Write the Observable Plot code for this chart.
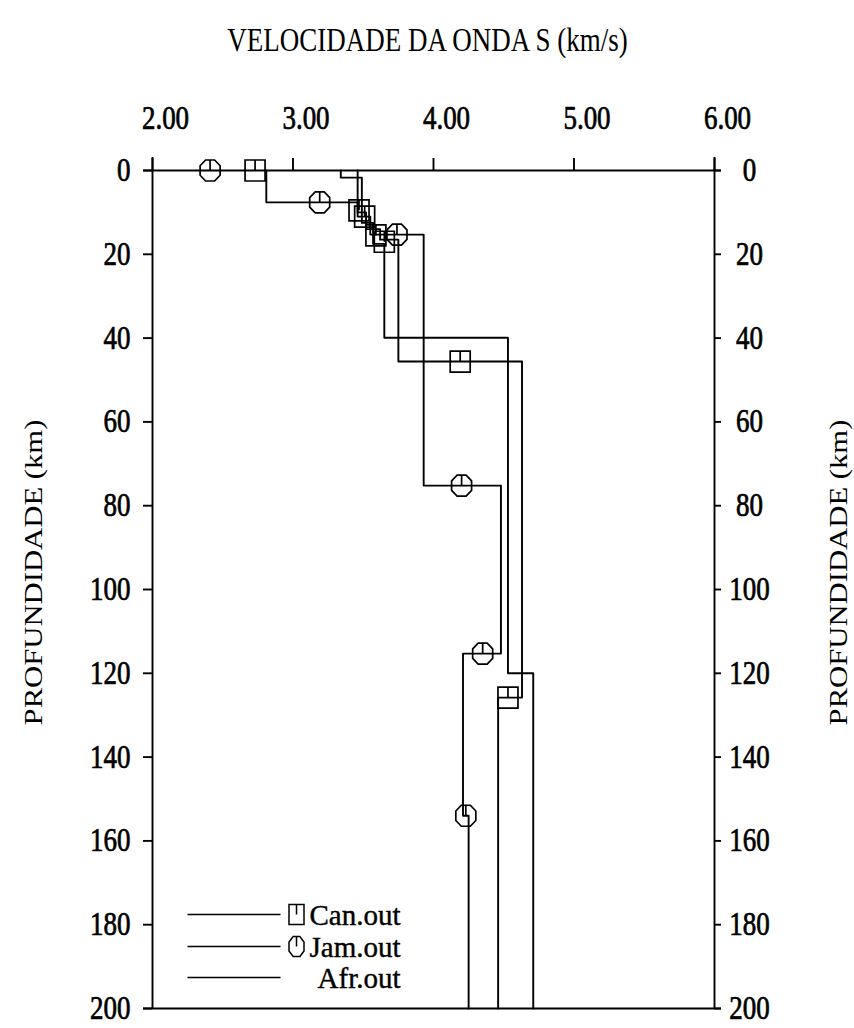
<!DOCTYPE html>
<html>
<head>
<meta charset="utf-8">
<script src="https://cdn.jsdelivr.net/npm/d3@7"></script>
<script src="https://cdn.jsdelivr.net/npm/@observablehq/plot@0.6"></script>
<style>
  html, body { margin: 0; padding: 0; background: #fff; }
  #chart svg { display: block; }
</style>
</head>
<body>
<div id="chart"></div>
<script>
// ---- data ----
const xTicks = [2, 3, 4, 5, 6];
const yTicks = [0, 20, 40, 60, 80, 100, 120, 140, 160, 180, 200];

// step profiles: layer S-velocities and layer boundaries (km)
const canVs    = [3.46, 3.52, 3.62, 3.75, 4.63, 4.46];
const canDepth = [0, 10, 14, 16.5, 45.6, 125.8, 200];
const jamVs    = [2.81, 3.46, 3.55, 3.93, 4.48, 4.21, 4.25];
const jamDepth = [0, 7.6, 11, 15.3, 75.2, 115.3, 154, 200];
const afrVs    = [3.34, 3.49, 3.57, 3.65, 4.53, 4.71];
const afrDepth = [0, 1.7, 12.5, 17.5, 39.9, 120, 200];

// symbol positions along the curves
const canMarkV = [2.73, 3.47, 3.51, 3.59, 3.65, 4.19, 4.53];
const canMarkD = [0, 9.5, 11, 15.5, 17, 45.6, 125.8];
const jamMarkV = [2.41, 3.19, 3.74, 4.20, 4.35, 4.23];
const jamMarkD = [0, 7.6, 15.3, 75.2, 115.3, 154];

const legendLabels = ["Can.out", "Jam.out", "Afr.out"];

// ---- helpers ----
function steps(vs, depths) {
  const pts = [];
  vs.forEach((v, i) => { pts.push({v, d: depths[i]}); pts.push({v, d: depths[i + 1]}); });
  return pts;
}
const pairs = (vs, ds) => vs.map((v, i) => ({v, d: ds[i]}));

function squareSym(wk, hk) {
  return { draw(ctx, size) {
    const r = Math.sqrt(size / Math.PI), w = r * wk, h = r * hk;
    ctx.moveTo(-w, -h); ctx.lineTo(w, -h); ctx.lineTo(w, h); ctx.lineTo(-w, h); ctx.closePath();
    ctx.moveTo(0, -h); ctx.lineTo(0, 0);
  }};
}
function octSym(wk, hk) {
  return { draw(ctx, size) {
    const r = Math.sqrt(size / Math.PI), w = r * wk, h = r * hk, c = 0.45;
    ctx.moveTo(-w * c, -h); ctx.lineTo(w * c, -h); ctx.lineTo(w, -h * c); ctx.lineTo(w, h * c);
    ctx.lineTo(w * c, h); ctx.lineTo(-w * c, h); ctx.lineTo(-w, h * c); ctx.lineTo(-w, -h * c); ctx.closePath();
    ctx.moveTo(0, -h); ctx.lineTo(0, 0);
  }};
}
const lineSym = { draw(ctx, size) { const r = Math.sqrt(size / Math.PI); ctx.moveTo(-r, 0); ctx.lineTo(r, 0); } };

const SW = 1.9;
const font = "'Liberation Serif', 'Times New Roman', serif";
const heavy = {fill: "black", stroke: "black", strokeWidth: 0.6};

const legendMarks = [];
const rowDy = [-94, -62, -31];
const rowSym = [squareSym(0.75, 1), octSym(0.75, 1), null];
legendLabels.forEach((lab, i) => {
  legendMarks.push(Plot.dot([lab], {frameAnchor: "bottom-left", dx: 81.5, dy: rowDy[i], r: 46.5, symbol: lineSym, stroke: "black", strokeWidth: 1.5}));
  if (rowSym[i]) legendMarks.push(Plot.dot([lab], {frameAnchor: "bottom-left", dx: 144, dy: rowDy[i], r: 10, symbol: rowSym[i], fill: "none", stroke: "black", strokeWidth: 1.5}));
  legendMarks.push(Plot.text([lab], {frameAnchor: "bottom-left", dx: 248, dy: rowDy[i] + 1, text: d => d, textAnchor: "end", lineAnchor: "middle", fontSize: 29, ...heavy, strokeWidth: 0.4}));
});

const chart = Plot.plot({
  width: 854,
  height: 1028,
  marginTop: 170,
  marginBottom: 20,
  marginLeft: 152,
  marginRight: 140,
  style: {background: "#fff", fontFamily: font, color: "black"},
  x: {domain: [2, 6], axis: null},
  y: {domain: [0, 200], reverse: true, axis: null},
  marks: [
    // frame
    Plot.ruleY([0, 200], {x1: 2, x2: 6, insetLeft: -9, insetRight: -7, stroke: "black", strokeWidth: SW}),
    Plot.ruleX([2, 6], {y1: 0, y2: 200, insetTop: -13, stroke: "black", strokeWidth: SW}),
    // top ticks
    Plot.ruleX(xTicks, {x: d => d, y1: 0, y2: 0, insetTop: -12, stroke: "black", strokeWidth: SW}),
    // left / right ticks
    Plot.ruleY(yTicks, {y: d => d, x1: 2, x2: 2, insetLeft: -9, stroke: "black", strokeWidth: SW}),
    Plot.ruleY(yTicks, {y: d => d, x1: 6, x2: 6, insetRight: -7, stroke: "black", strokeWidth: SW}),
    // tick labels
    Plot.text(xTicks, {x: d => d, frameAnchor: "top", lineAnchor: "middle", textAnchor: "middle", dy: -52, dx: 13, text: d => d.toFixed(2), fontSize: 27, ...heavy}),
    Plot.text(yTicks, {y: d => d, frameAnchor: "left", lineAnchor: "middle", dx: -22, textAnchor: "end", text: d => String(d), fontSize: 27, ...heavy}),
    Plot.text(yTicks, {y: d => d, frameAnchor: "right", lineAnchor: "middle", dx: 35, textAnchor: "middle", text: d => String(d), fontSize: 27, ...heavy}),
    // titles
    Plot.text(["VELOCIDADE DA ONDA S (km/s)"], {frameAnchor: "top", lineAnchor: "middle", textAnchor: "middle", dx: -6, dy: -130, text: d => d, fontSize: 27, fill: "black"}),
    Plot.text(["PROFUNDIDADE (km)"], {frameAnchor: "left", textAnchor: "middle", lineAnchor: "middle", dx: -119, dy: -17, rotate: -90, text: d => d, fontSize: 26, fill: "black"}),
    Plot.text(["PROFUNDIDADE (km)"], {frameAnchor: "right", textAnchor: "middle", lineAnchor: "middle", dx: 124, dy: -17, rotate: -90, text: d => d, fontSize: 26, fill: "black"}),
    // profiles
    Plot.line(steps(afrVs, afrDepth), {x: "v", y: "d", stroke: "black", strokeWidth: SW}),
    Plot.line(steps(canVs, canDepth), {x: "v", y: "d", stroke: "black", strokeWidth: SW}),
    Plot.line(steps(jamVs, jamDepth), {x: "v", y: "d", stroke: "black", strokeWidth: SW}),
    // symbols
    Plot.dot(pairs(canMarkV, canMarkD), {x: "v", y: "d", r: 10, symbol: squareSym(1, 1.05), fill: "none", stroke: "black", strokeWidth: 1.7}),
    Plot.dot(pairs(jamMarkV, jamMarkD), {x: "v", y: "d", r: 10, symbol: octSym(1, 1.05), fill: "none", stroke: "black", strokeWidth: 1.7}),
    ...legendMarks
  ]
});

// slightly taller glyphs as in the scanned original (legend text left as is)
d3.select(chart).selectAll("text").each(function () {
  const t = this.getAttribute("transform");
  if (!t) return;
  const txt = this.textContent;
  if (legendLabels.includes(txt)) return;
  if (t.includes("rotate")) this.setAttribute("transform", t + " scale(1.18,1)");
  else this.setAttribute("transform", t + " scale(1,1.22)");
});

document.getElementById("chart").appendChild(chart);
</script>
</body>
</html>
